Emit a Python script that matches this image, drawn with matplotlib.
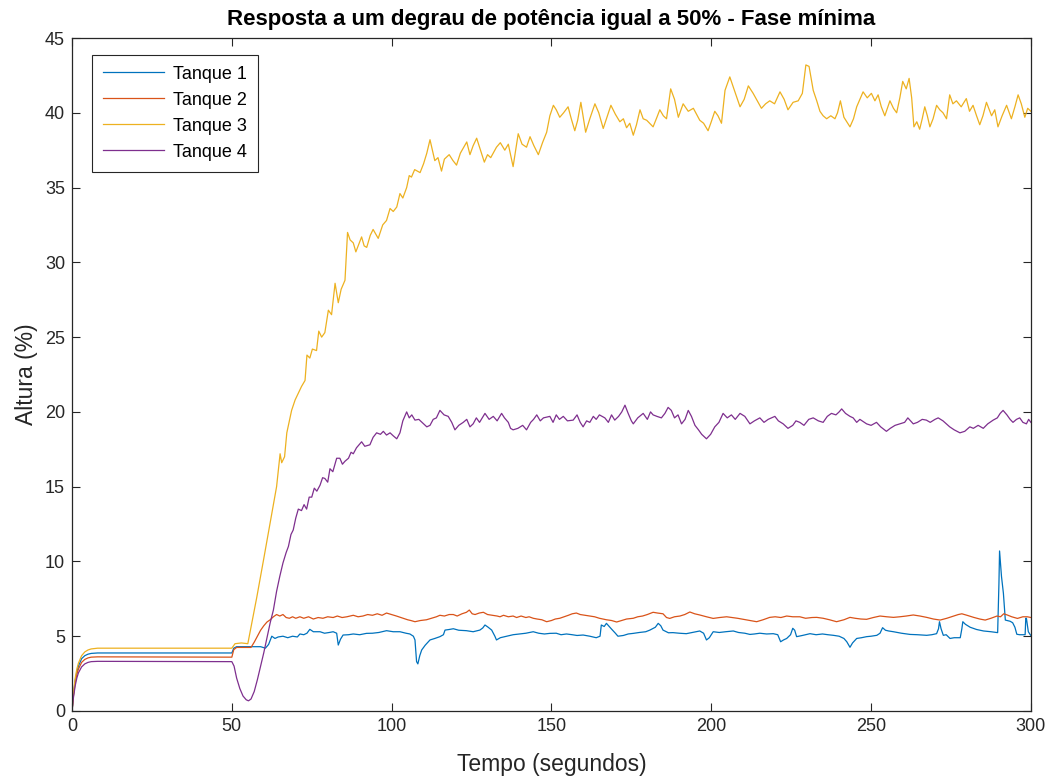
import matplotlib
matplotlib.use("Agg")
import matplotlib.pyplot as plt

# ---------------------------------------------------------------------------
# Measured tank levels (time in seconds, level in %)
# ---------------------------------------------------------------------------
t_tanque1 = [0, 0.5, 1, 1.5, 2, 3, 4, 5, 6, 8, 50, 50.6, 51.5, 59, 60.5, 61.5, 62.5,
             63.5, 64.5, 66, 67.5, 69, 70.5, 71.3, 72.5, 73.5, 74.4, 75.5, 77.6, 79,
             80.5, 81.7, 82.8, 83.3, 84, 84.8, 86.5, 88, 90, 92.1, 94, 96, 98.4, 100.5,
             102.6, 104.5, 105.7, 106.8, 107.3, 107.8, 108.2, 108.8, 109.4, 110.5, 112,
             113.5, 115.1, 116.2, 116.7, 118, 119.3, 121, 123.4, 125.5, 127.6, 128.5,
             129.2, 130.2, 131.3, 132.3, 132.8, 134, 136, 138, 140, 142, 144.3, 146,
             147.8, 149.5, 151.5, 153, 154.7, 156.5, 158, 159.9, 162, 164, 165.2, 165.6,
             166.5, 167.2, 168.7, 170, 170.8, 172.5, 174, 175.6, 177.5, 179.5, 180.8,
             182.5, 183.4, 184.2, 184.9, 186.6, 188, 190, 192.2, 194, 196.4, 197.6,
             198.5, 199.4, 200.6, 202.5, 204.5, 206.9, 208.5, 210.5, 212.1, 213.5,
             215.2, 217.3, 219.4, 220.8, 221.7, 222.6, 223.6, 224.8, 225.5, 226.1,
             226.7, 228.5, 230.9, 232.8, 234.8, 236.5, 238.2, 240, 241.5, 242.4, 243.4,
             244.2, 245.5, 247, 248.6, 250, 251.8, 252.8, 253.6, 254.5, 255.5, 257,
             259.5, 262.2, 264.5, 267.4, 269, 270.5, 271.1, 271.4, 271.9, 272.6, 273.5,
             274.7, 276, 277.9, 278.4, 278.7, 279.5, 281, 283, 285.2, 287.5, 289.6, 290,
             290.2, 290.8, 291.4, 292, 293.5, 294.3, 295, 295.6, 296.5, 298.2, 298.4,
             298.6, 299.2, 299.8, 300]
h_tanque1 = [0, 1.2, 2.05, 2.6, 3.0, 3.5, 3.7, 3.8, 3.85, 3.88, 3.88, 4.2, 4.3, 4.3, 4.2,
             4.45, 5.0, 4.85, 4.95, 5.0, 4.9, 5.0, 4.95, 5.15, 5.1, 5.2, 5.46, 5.3, 5.3,
             5.2, 5.25, 5.3, 5.2, 4.41, 4.8, 5.08, 5.1, 5.15, 5.1, 5.19, 5.2, 5.25, 5.37,
             5.3, 5.3, 5.2, 5.15, 5.0, 4.75, 3.3, 3.15, 3.7, 4.08, 4.4, 4.75, 4.85, 4.97,
             5.1, 5.41, 5.45, 5.5, 5.4, 5.37, 5.3, 5.41, 5.55, 5.75, 5.6, 5.41, 5.0, 4.75,
             4.9, 5.0, 5.1, 5.15, 5.2, 5.3, 5.2, 5.15, 5.19, 5.2, 5.1, 5.15, 5.1, 5.05,
             5.08, 5.0, 4.9, 5.0, 5.75, 5.65, 5.86, 5.5, 5.2, 5.0, 5.05, 5.15, 5.19, 5.25,
             5.3, 5.41, 5.6, 5.86, 5.7, 5.41, 5.23, 5.24, 5.2, 5.17, 5.25, 5.35, 5.2, 4.75,
             4.9, 5.3, 5.25, 5.3, 5.35, 5.25, 5.2, 5.12, 5.15, 5.2, 5.15, 5.17, 5.1, 4.63,
             4.75, 4.85, 5.1, 5.53, 5.4, 4.97, 5.05, 5.17, 5.1, 5.15, 5.1, 5.06, 5.0, 4.85,
             4.63, 4.26, 4.55, 4.85, 4.9, 4.97, 5.0, 5.06, 5.2, 5.57, 5.4, 5.35, 5.3, 5.2,
             5.12, 5.1, 5.06, 5.1, 5.17, 5.5, 5.97, 5.5, 5.06, 5.1, 4.85, 4.9, 4.9, 5.5,
             5.97, 5.8, 5.6, 5.45, 5.35, 5.3, 5.24, 8.5, 10.7, 9.0, 7.87, 6.08, 6.0, 5.9,
             5.6, 5.13, 5.1, 5.1, 6.2, 6.2, 5.3, 5.1, 5.05]

t_tanque2 = [0, 0.5, 1, 1.5, 2, 3, 4, 5, 6, 8, 50, 50.6, 51.5, 56, 57, 58, 59, 60, 61,
             62, 63, 64, 65, 66, 67, 68, 69, 70, 71.3, 72.5, 74, 75.5, 77, 78.5, 80,
             81.7, 83, 84.5, 86, 88, 89.5, 91, 92.5, 94, 95.5, 97, 98.4, 100, 101.5,
             103.6, 105, 106, 107.3, 109, 110.9, 112.5, 114, 115.1, 116.5, 118, 119.3,
             120.5, 122, 123.4, 124.3, 125.2, 126.1, 127.4, 128.7, 130, 131.5, 133,
             133.9, 135, 136.5, 138, 139.1, 140.5, 142, 143, 144.3, 145.5, 147, 148.5,
             150, 151.2, 152.6, 154, 155.3, 156.5, 157.8, 159, 160.4, 162, 163.5, 165,
             167.2, 168.8, 170.4, 172, 173.5, 175.6, 177, 178.5, 180, 181.8, 183.2,
             184.9, 186, 187, 188.5, 190.2, 191.7, 193.3, 194.8, 196.4, 198.5, 200.6,
             202.6, 204.8, 206.5, 208.2, 210, 212, 214.2, 216.2, 218.3, 220, 221.8,
             223.6, 225.5, 227.7, 229.5, 231.5, 233, 235, 237, 239.2, 241.5, 243.4, 245,
             246.8, 248.6, 250.7, 252.8, 254.9, 257, 259, 261, 263.2, 265.3, 267.4,
             269.5, 271.6, 273.7, 275.8, 277.3, 278.4, 280, 282.1, 284, 285.7, 287.5,
             289.4, 290.5, 291.5, 292.6, 294, 295.8, 297.5, 298.9, 300]
h_tanque2 = [0, 1.1, 1.9, 2.45, 2.8, 3.25, 3.45, 3.55, 3.6, 3.62, 3.6, 4.1, 4.25, 4.25,
             4.6, 5.0, 5.4, 5.7, 5.95, 6.1, 6.3, 6.45, 6.35, 6.45, 6.25, 6.2, 6.3, 6.2,
             6.3, 6.2, 6.3, 6.15, 6.25, 6.2, 6.3, 6.25, 6.35, 6.25, 6.3, 6.4, 6.3, 6.35,
             6.45, 6.4, 6.5, 6.4, 6.55, 6.45, 6.35, 6.2, 6.1, 6.05, 5.97, 6.05, 6.1, 6.2,
             6.3, 6.4, 6.35, 6.45, 6.45, 6.35, 6.5, 6.6, 6.75, 6.5, 6.45, 6.55, 6.6, 6.45,
             6.4, 6.35, 6.3, 6.4, 6.3, 6.35, 6.25, 6.35, 6.25, 6.3, 6.2, 6.15, 6.1, 5.97,
             6.05, 6.15, 6.2, 6.3, 6.4, 6.5, 6.55, 6.45, 6.4, 6.35, 6.3, 6.2, 6.1, 6.05,
             5.95, 6.05, 6.15, 6.2, 6.3, 6.35, 6.45, 6.6, 6.55, 6.5, 6.25, 6.19, 6.3, 6.35,
             6.45, 6.62, 6.5, 6.42, 6.3, 6.19, 6.25, 6.3, 6.25, 6.2, 6.13, 6.05, 5.97, 6.1,
             6.26, 6.3, 6.25, 6.35, 6.3, 6.3, 6.2, 6.25, 6.26, 6.2, 6.1, 5.97, 6.1, 6.26,
             6.2, 6.15, 6.13, 6.25, 6.35, 6.3, 6.26, 6.3, 6.35, 6.42, 6.35, 6.26, 6.15,
             6.08, 6.2, 6.35, 6.45, 6.5, 6.4, 6.26, 6.15, 6.08, 6.2, 6.35, 6.3, 6.5, 6.42,
             6.3, 6.19, 6.3, 6.3, 6.25]

t_tanque3 = [0, 0.5, 1, 1.5, 2, 3, 4, 5, 6, 8, 50, 51, 53, 55, 57.8, 60, 61.9, 64, 65.1,
             65.6, 66.5, 67.2, 68.7, 69.8, 71.8, 72.9, 73.5, 74.4, 75.2, 76.5, 77.2,
             78.1, 79.1, 80.2, 81.2, 82.3, 83.3, 84.2, 85.4, 86.2, 87, 88, 88.8, 90.6,
             91.4, 92.2, 93.3, 94.2, 95.8, 97.2, 98.4, 99.5, 100.5, 101.6, 102.6, 103.5,
             104.7, 105.5, 106.2, 107.2, 108.9, 110, 111, 112, 113.5, 114.5, 115.6,
             116.5, 118, 119.2, 120.3, 121.5, 123.5, 124.5, 125.5, 126.6, 127.8, 129,
             130, 131, 132.8, 134, 135.4, 136.5, 138, 139.6, 140.8, 142.2, 143.3, 144.5,
             145.9, 147.2, 148.5, 149.5, 150.6, 151.5, 152.6, 153.8, 155.2, 156.2,
             157.3, 158.2, 159.2, 160.7, 162, 163.6, 164.8, 166.2, 167.5, 168.6, 170,
             171.4, 172.5, 173.5, 174.5, 175.6, 176.6, 177.7, 178.7, 179.8, 181.8, 183,
             183.9, 185, 186, 187.3, 188.5, 189.7, 191.2, 192.8, 194.4, 195.4, 196.4,
             197.6, 199, 200, 201.1, 202.1, 203.2, 204.3, 205.8, 207.4, 209, 210.3,
             211.6, 213.1, 214.4, 215.7, 217, 218.3, 219.8, 221.5, 222.8, 224, 225.6,
             227.2, 228.5, 229.6, 230.6, 231.9, 233, 234, 235, 236.1, 237.4, 238.7,
             239.5, 240.4, 241.5, 243.4, 244.5, 245.5, 246.5, 247.5, 248.8, 250.1,
             251.2, 252.2, 253.2, 254.3, 255.9, 257, 258, 259, 259.9, 261, 261.9, 262.7,
             263.4, 264.3, 265.2, 266, 266.8, 267.6, 268.4, 269.4, 270.5, 271.5, 272.5,
             273.6, 274.6, 275.6, 276.7, 278.2, 279.8, 280.8, 281.9, 283, 284, 285,
             286.1, 287.7, 288.7, 289.7, 291, 292.4, 293.9, 295, 296, 297, 298.1, 299,
             300]
h_tanque3 = [0, 1.3, 2.2, 2.8, 3.2, 3.7, 3.95, 4.08, 4.15, 4.2, 4.2, 4.5, 4.55, 4.5, 7.6,
             10.2, 12.5, 15.0, 17.2, 16.6, 17.0, 18.6, 20.1, 20.8, 21.7, 22.1, 23.8, 23.6,
             24.2, 24.1, 25.4, 25.0, 25.3, 26.8, 26.5, 28.6, 27.3, 28.2, 28.8, 32.0, 31.5,
             31.3, 30.7, 31.7, 31.1, 31.0, 31.8, 32.2, 31.6, 32.5, 32.8, 33.6, 33.4, 33.7,
             34.6, 34.3, 35.0, 35.8, 35.7, 36.2, 36.0, 36.6, 37.3, 38.2, 36.8, 37.0, 36.1,
             36.9, 37.2, 36.8, 36.5, 37.3, 38.05, 37.2, 37.8, 38.3, 37.5, 36.7, 37.2,
             37.0, 37.7, 38.0, 37.5, 37.9, 36.4, 38.6, 37.9, 37.7, 38.4, 37.8, 37.2, 38.0,
             38.7, 39.8, 40.5, 40.2, 39.7, 40.0, 40.4, 39.6, 38.8, 39.5, 40.7, 38.7, 39.6,
             40.6, 40.0, 38.95, 39.8, 40.5, 39.9, 39.4, 39.6, 39.0, 39.3, 38.5, 39.2,
             40.2, 39.6, 39.5, 39.06, 39.7, 40.2, 39.8, 39.6, 41.6, 40.9, 39.7, 40.6,
             40.1, 40.3, 39.9, 39.5, 39.3, 38.8, 39.4, 40.1, 39.8, 39.3, 41.5, 42.4, 41.4,
             40.4, 40.9, 41.8, 41.3, 40.8, 40.3, 40.6, 40.8, 40.6, 41.4, 40.9, 40.2, 40.7,
             40.8, 41.3, 43.2, 43.1, 41.5, 40.8, 40.1, 39.8, 39.6, 39.8, 39.6, 40.0, 40.8,
             39.7, 39.06, 39.6, 40.4, 40.9, 41.4, 41.0, 41.3, 40.8, 41.2, 40.4, 39.8,
             40.8, 40.3, 40.0, 41.0, 42.1, 41.6, 42.3, 41.0, 39.06, 39.4, 38.9, 39.6,
             40.4, 39.8, 39.06, 39.6, 40.5, 40.2, 40.0, 39.6, 41.2, 40.6, 40.8, 40.4,
             40.95, 40.1, 40.5, 39.8, 39.2, 39.8, 40.7, 39.8, 40.2, 39.06, 39.8, 40.5,
             39.6, 40.4, 41.2, 40.6, 39.7, 40.3, 40.1]

t_tanque4 = [0, 0.5, 1, 1.5, 2, 3, 4, 5, 6, 8, 50, 50.7, 51.5, 52.5, 53.5, 54.5, 55.2, 56,
             57, 58, 59, 60, 61, 62, 63, 64, 65, 66, 67, 67.7, 68.5, 69.2, 70, 70.8,
             71.8, 72.6, 73.4, 74.2, 75, 75.8, 76.6, 77.6, 78.4, 79.1, 80, 80.7, 81.6,
             82.8, 83.8, 84.6, 85.4, 86.5, 87.3, 88, 89, 90.6, 91.6, 93.2, 94.2, 95.3,
             96.5, 97.4, 98.4, 99.5, 100.5, 101.6, 102.6, 103.5, 104.7, 105.5, 106.3,
             107.3, 108.5, 110, 111, 112, 113, 114, 115.1, 116.4, 117.7, 118.8, 119.8,
             121, 122.4, 123.5, 124.5, 125.5, 126.5, 127.5, 129.2, 130.5, 131.8, 133,
             134.4, 135.3, 136.5, 137.2, 138, 139.5, 141, 142.2, 143.5, 144.4, 145.4,
             146.5, 147.5, 149.5, 150.5, 151.5, 152.5, 153.7, 155, 156.8, 158, 159,
             159.9, 161, 162, 163.1, 164, 165, 166.7, 167.8, 168.8, 169.8, 171, 172, 173,
             174, 175, 175.6, 177, 178.7, 180, 181, 181.8, 183, 184.4, 185.5, 186.5,
             187.5, 188.5, 189.6, 190.7, 191.8, 192.8, 193.8, 194.9, 196, 197, 198.5,
             199.8, 201.1, 202.4, 203.7, 205, 206.3, 207.5, 209, 210.5, 212.1, 213.5,
             215.2, 216.5, 217.8, 219.9, 221, 222.5, 224, 225.5, 226.5, 227.7, 229,
             230.5, 231.9, 233.5, 235, 236.3, 237.6, 239, 240, 240.8, 242, 243.4, 244.4,
             245.5, 246.5, 248.6, 250, 251.7, 253, 254.8, 256, 257.5, 259, 260.5, 261.5,
             263.2, 264.5, 266, 267.3, 268.5, 270, 271, 272.5, 274.6, 276, 277.8, 279.3,
             280.9, 282, 283.5, 285.1, 286.5, 288.2, 289.5, 290.4, 291.3, 292.5, 293.5,
             294.4, 295.5, 296.5, 297.5, 298.6, 299.3, 300]
h_tanque4 = [0, 1.0, 1.7, 2.2, 2.55, 2.95, 3.15, 3.25, 3.3, 3.32, 3.3, 3.0, 2.2, 1.5, 1.0,
             0.75, 0.68, 0.8, 1.3, 2.1, 3.0, 3.9, 4.9, 5.9, 6.75, 8.0, 9.0, 9.9, 10.6,
             11.0, 11.8, 12.1, 12.9, 13.5, 13.4, 13.8, 13.5, 14.3, 14.3, 14.9, 14.7, 15.1,
             15.6, 15.55, 15.3, 16.2, 16.0, 16.9, 16.9, 16.5, 16.7, 16.9, 17.3, 17.2,
             17.6, 18.0, 17.7, 17.8, 18.3, 18.6, 18.5, 18.7, 18.45, 18.6, 18.4, 18.2,
             18.6, 19.4, 20.0, 19.6, 19.8, 19.45, 19.5, 19.2, 19.0, 19.1, 19.5, 19.6, 20.1,
             19.8, 19.7, 19.3, 18.8, 19.1, 19.3, 19.5, 19.0, 19.2, 19.6, 19.3, 19.9, 19.5,
             19.7, 19.4, 19.9, 19.6, 19.3, 18.9, 18.8, 18.9, 19.1, 18.8, 19.3, 19.5, 19.8,
             19.4, 19.6, 19.7, 19.3, 19.8, 19.5, 19.7, 19.4, 19.45, 19.8, 19.3, 19.0,
             19.4, 19.3, 19.7, 19.5, 19.8, 19.6, 19.3, 19.8, 19.45, 19.7, 20.0, 20.45,
             19.9, 19.4, 19.2, 19.6, 19.9, 19.5, 20.0, 19.8, 19.7, 19.6, 19.9, 20.3, 20.1,
             19.6, 19.8, 19.2, 19.5, 20.1, 19.7, 19.1, 18.8, 18.5, 18.2, 18.5, 19.0, 19.3,
             19.9, 19.6, 19.8, 19.5, 19.9, 19.7, 19.2, 19.4, 19.6, 19.3, 19.5, 19.7, 19.4,
             19.2, 18.9, 19.1, 19.4, 19.3, 19.1, 19.5, 19.6, 19.4, 19.3, 19.7, 19.9, 19.8,
             20.0, 20.2, 19.9, 19.7, 19.6, 19.3, 19.5, 19.2, 19.1, 19.3, 19.0, 18.7, 18.9,
             19.1, 19.2, 19.3, 19.6, 19.2, 19.3, 19.5, 19.45, 19.3, 19.5, 19.6, 19.4, 19.0,
             18.8, 18.6, 18.7, 19.0, 18.9, 19.1, 18.9, 19.2, 19.45, 19.6, 19.9, 20.1, 19.8,
             19.5, 19.3, 19.5, 19.6, 19.3, 19.2, 19.5, 19.3]

series_labels = ["Tanque 1", "Tanque 2", "Tanque 3", "Tanque 4"]
x_ticks = [0, 50, 100, 150, 200, 250, 300]
y_ticks = [0, 5, 10, 15, 20, 25, 30, 35, 40, 45]

# MATLAB default line colours
colors = ["#0072BD", "#D95319", "#EDB120", "#7E2F8E"]
axis_gray = "#262626"

plt.rcParams["font.family"] = ["Liberation Sans", "DejaVu Sans"]

fig = plt.figure(figsize=(10.53, 7.82), dpi=100)
ax = fig.add_axes([0.0684, 0.0908, 0.9106, 0.8606])

series = [(t_tanque1, h_tanque1), (t_tanque2, h_tanque2),
          (t_tanque3, h_tanque3), (t_tanque4, h_tanque4)]
for (t, h), lab, c in zip(series, series_labels, colors):
    ax.plot(t, h, color=c, lw=0.9, label=lab)

ax.set_xlim(0, 300)
ax.set_ylim(0, 45)
ax.set_xticks(x_ticks)
ax.set_yticks(y_ticks)
ax.tick_params(direction="in", top=True, right=True, length=6, width=0.8,
               colors=axis_gray, labelsize=13, pad=5)
for sp in ax.spines.values():
    sp.set_color(axis_gray)
    sp.set_linewidth(0.9)

ax.set_title("Resposta a um degrau de potência igual a 50% - Fase mínima",
             fontsize=16, fontweight="bold", color="black", pad=9.5)
ax.set_xlabel("Tempo (segundos)", fontsize=16.5, color=axis_gray, labelpad=13)
ax.set_ylabel("Altura (%)", fontsize=16.5, color=axis_gray, labelpad=5)

leg = ax.legend(loc="upper left", bbox_to_anchor=(0.0209, 0.975), borderaxespad=0,
                fontsize=13, handlelength=3.4, labelspacing=0.5, handletextpad=0.5,
                borderpad=0.6, fancybox=False, framealpha=1, edgecolor=axis_gray)
leg.get_frame().set_linewidth(0.8)
for txt in leg.get_texts():
    txt.set_color("black")

fig.savefig("out.png", dpi=100)
